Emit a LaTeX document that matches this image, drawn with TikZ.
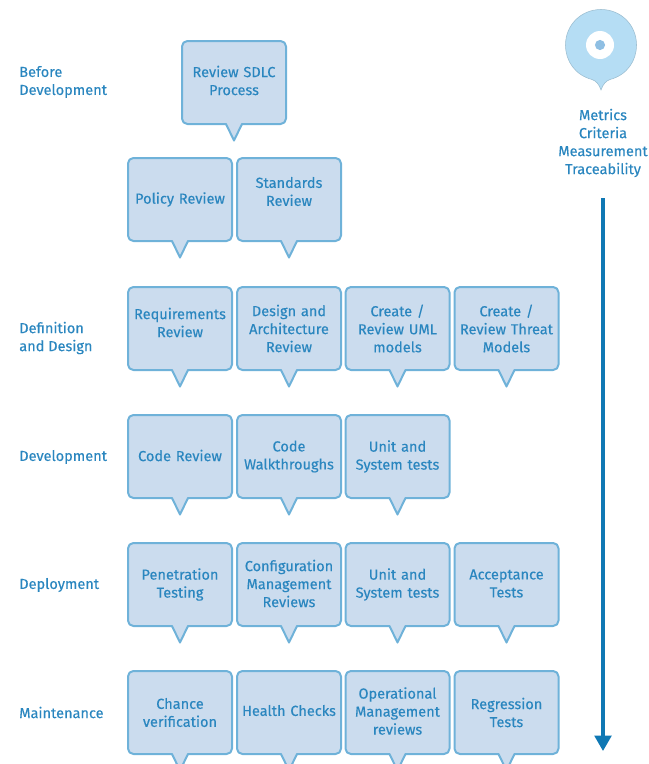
\documentclass[tikz,border=0pt]{standalone}
\usepackage{fontspec}
\setmainfont{Fira Sans}[FakeBold=0.3]
\usetikzlibrary{arrows.meta}
\definecolor{boxfill}{HTML}{CBDCEE}
\definecolor{boxline}{HTML}{6FB2D9}
\definecolor{inktext}{HTML}{2A86BF}
\definecolor{arrowblue}{HTML}{0F78B4}
\definecolor{pinfill}{HTML}{B5DDF4}
\definecolor{pindot}{HTML}{8FBFE3}
\newcommand\labelfont{\fontsize{10.9}{13.5}\selectfont}
\tikzset{
  x=0.75pt,y=-0.75pt,
  bubbleline/.style={draw=boxline,fill=boxfill,line width=1.5pt,line join=round},
  bubbletext/.style={text=inktext,align=center,font=\labelfont,inner sep=0pt,text width=102*0.75pt},
  sidelabel/.style={text=inktext,align=left,anchor=west,font=\labelfont,inner sep=0pt},
  metrictext/.style={text=inktext,align=center,font=\labelfont,inner sep=0pt},
}
% #1 name, #2 centre x, #3 centre y, #4 text shift, #5 text
\newcommand\bubblebox[5]{%
  \path[bubbleline] (#2-52,#3) [rounded corners=4pt] -- (#2-52,#3-41.5) -- (#2+52,#3-41.5) -- (#2+52,#3+41.5) [sharp corners] -- (#2+8,#3+41.5) -- (#2,#3+58) -- (#2-8,#3+41.5) [rounded corners=4pt] -- (#2-52,#3+41.5) -- cycle;
  \node[bubbletext] (#1) at (#2,#3+#4) {#5};
}
\begin{document}
\begin{tikzpicture}
\useasboundingbox (0,0) rectangle (649,764);
\clip (0,0) rectangle (649,764);
% pin
\path[fill=pinfill,draw=pinfill!85!black,line width=0.4pt] (601,90) .. controls (599,84) and (596,81) .. (592,79.5) .. controls (575,75) and (565.5,61) .. (565.5,45) .. controls (565.5,25) and (581,9.5) .. (601,9.5) .. controls (621,9.5) and (636.5,25) .. (636.5,45) .. controls (636.5,61) and (627,75) .. (610,79.5) .. controls (606,81) and (603,84) .. (601,90) -- cycle;
\fill[white] (600,45) circle[radius=10.5pt];
\fill[pindot] (600,45) circle[radius=3.8pt];
\node[metrictext] (metrics) at (603,143) {Metrics\\Criteria\\Measurement\\Traceability};
% arrow
\coordinate (arrowstart) at (603,198);
\coordinate (arrowend) at (603,751);
\draw[arrowblue,line width=2.4pt,-{Triangle[length=11.5pt,width=12.5pt]}] (arrowstart) -- (arrowend);
% side labels
\node[sidelabel] (before) at (19,82) {Before\\Development};
\node[sidelabel] (defdesign) at (19,338) {Definition\\and Design};
\node[sidelabel] (development) at (19,457) {Development};
\node[sidelabel] (deployment) at (19,585) {Deployment};
\node[sidelabel] (maintenance) at (19,712.5) {Maintenance};
% bubbles
\bubblebox{sdlc}{234}{82.5}{-2}{Review SDLC\\Process}
\bubblebox{policy}{180}{199.5}{0}{Policy Review}
\bubblebox{standards}{289}{199.5}{-8}{Standards\\Review}
\bubblebox{req}{180}{328.5}{-6}{Requirements\\Review}
\bubblebox{design}{289}{328.5}{0}{Design and\\Architecture\\Review}
\bubblebox{uml}{397.5}{328.5}{0}{Create /\\Review UML\\models}
\bubblebox{threat}{506.5}{328.5}{0}{Create /\\Review Threat\\Models}
\bubblebox{code}{180}{456.5}{-1}{Code Review}
\bubblebox{walk}{289}{456.5}{0}{Code\\Walkthroughs}
\bubblebox{unita}{397.5}{456.5}{0}{Unit and\\System tests}
\bubblebox{pen}{180}{584.5}{0}{Penetration\\Testing}
\bubblebox{config}{289}{584.5}{-1}{Configuration\\Management\\Reviews}
\bubblebox{unitb}{397.5}{584.5}{0}{Unit and\\System tests}
\bubblebox{accept}{506.5}{584.5}{-1}{Acceptance\\Tests}
\bubblebox{chance}{180}{712.5}{0}{Chance\\verification}
\bubblebox{health}{289}{712.5}{-2}{Health Checks}
\bubblebox{ops}{397.5}{712.5}{-1.5}{Operational\\Management\\reviews}
\bubblebox{regress}{506.5}{712.5}{0}{Regression\\Tests}
\end{tikzpicture}
\end{document}
